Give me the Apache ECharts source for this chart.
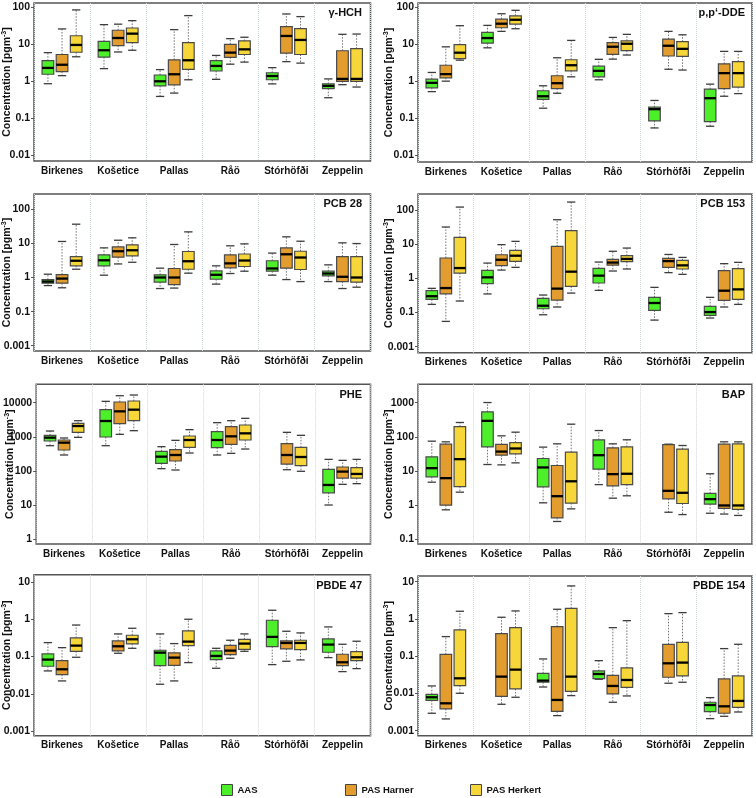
<!DOCTYPE html>
<html><head><meta charset="utf-8">
<script src="https://cdn.jsdelivr.net/npm/echarts@6/dist/echarts.min.js"></script>
<style>html,body{margin:0;padding:0;background:#fff}#c{width:756px;height:798px}</style>
</head><body><div id="c"></div>
<script>
// ---------- DATA ----------
const sites = ['Birkenes','Košetice','Pallas','Råö','Stórhöfði','Zeppelin'];
const seriesNames = ['AAS','PAS Harner','PAS Herkert'];
// each item: [whisker min, Q1, median, Q3, whisker max]  (pg m-3); null = no box
const hch_AAS     = [[0.86,1.55,2.3,3.6,5.95],[2.2,4.5,6.9,12,34],[0.39,0.75,1.0,1.48,2.07],[1.13,1.9,2.6,3.6,5.0],[0.85,1.1,1.39,1.7,2.34],[0.36,0.63,0.75,0.85,1.16]];
const hch_Harner  = [[1.42,1.83,2.8,5.3,26],[6.2,9.2,14.8,24,35],[0.48,0.8,1.55,3.8,24.9],[2.9,4.45,5.95,10,14.2],[3.4,5.8,16.8,30,66],[0.81,1.0,1.16,6.7,18.6]];
const hch_Herkert = [[4.6,6.1,9.6,17,85],[6.9,11.1,19.4,27.6,43.6],[1.1,2.1,3.7,11.1,59.6],[3.3,5.3,7.3,12.3,15.5],[3.1,5.3,13.1,26.5,56],[0.70,1.0,1.16,7.6,18.9]];

const dde_AAS     = [[0.52,0.66,0.90,1.13,1.72],[8.0,10.7,14.7,21,32.4],[0.185,0.32,0.39,0.55,0.75],[1.09,1.31,1.9,2.55,3.9],[0.054,0.084,0.174,0.197,0.30],[0.06,0.08,0.345,0.61,0.83]];
const dde_Harner  = [[1.0,1.23,1.55,2.7,8.5],[22.3,28,36,48,67],[0.47,0.63,0.88,1.4,4.3],[3.95,5.3,8.55,11,15.3],[2.1,4.8,9.1,13.8,22.3],[0.39,0.63,1.65,2.95,6.4]];
const dde_Herkert = [[3.7,4.1,5.9,9.7,31.8],[26.3,35,46,59,83],[1.31,1.9,2.7,3.8,12.7],[5.1,6.7,10.3,12.4,18.5],[2.0,4.7,7.5,11.7,18],[0.46,0.69,1.65,3.4,6.4]];

const pcb28_AAS     = [[0.58,0.68,0.76,0.87,1.25],[1.17,2.2,3.2,4.6,7.4],[0.475,0.73,1.0,1.2,1.88],[0.64,0.89,1.2,1.57,2.2],[1.17,1.53,1.84,3.1,5.2],[0.76,1.12,1.31,1.53,2.35]];
const pcb28_Harner  = [[0.50,0.68,0.93,1.22,11.4],[2.5,3.95,5.9,7.9,12.4],[0.49,0.62,1.0,1.84,9.3],[1.31,1.92,2.6,4.6,8.5],[0.87,1.88,4.8,7.4,15.6],[0.475,0.76,1.05,4.1,10.4]];
const pcb28_Herkert = [[1.75,2.2,3.1,4.1,36.6],[2.8,4.3,6.3,9.1,14.6],[1.34,1.75,3.0,5.8,21.8],[1.53,2.1,3.15,4.9,9.7],[0.76,1.72,3.86,5.9,11.6],[0.52,0.73,1.0,4.1,9.9]];

const pcb153_AAS     = [[0.173,0.243,0.30,0.435,0.51],[0.35,0.70,1.07,1.71,2.8],[0.086,0.129,0.158,0.26,0.325],[0.445,0.73,1.2,1.96,3.0],[0.06,0.116,0.19,0.278,0.545],[0.069,0.083,0.103,0.151,0.278]];
const pcb153_Harner  = [[0.055,0.35,0.52,3.94,31.8],[1.75,2.35,3.5,4.9,9.7],[0.145,0.232,0.5,8.6,52],[1.64,2.45,2.9,3.6,6.2],[1.47,2.1,3.2,3.85,5.0],[0.145,0.227,0.435,1.68,2.69]];
const pcb153_Herkert = [[0.217,1.43,2.0,15.9,122],[2.1,3.15,4.6,6.6,12.1],[0.37,0.58,1.57,24.8,171],[1.88,3.07,3.7,4.6,7.7],[1.31,1.88,2.4,3.37,4.1],[0.173,0.243,0.476,1.92,2.94]];

const phe_AAS     = [[551,755,946,1107,1480],[551,988,2905,6237,10940],[117,168,263,377,515],[294,482,808,1416,2600],null,[10.1,23,39,112,219]];
const phe_Harner  = [[294,412,675,807,925],[1183,2429,5575,10470,16000],[107,196,294,421,790],[329,603,1035,1985,2970],[109,160,294,631,1355],[40.7,62,96,131,205]];
const phe_Herkert = [[967,1355,2075,2483,2970],[1515,2970,6237,11200,16750],[336,493,808,1058,1622],[440,808,1266,2220,3477],[98,143,257,493,1107],[42.6,62,82,125,219]];

const bap_AAS     = [[4.7,6.75,12.1,26,74.7],[15.5,51,294,540,1010],[1.17,3.44,12.7,23.2,50],[4.0,11.3,29,82,153],null,[0.58,1.07,1.5,2.2,8.3]];
const bap_Harner  = [[0.73,1.0,6.17,61,71.4],[15.1,29,37,60,107],[0.333,0.426,1.83,14.5,62.4],[1.6,3.68,8.1,47.6,62.4],[0.62,1.53,2.63,59,61],[0.55,0.8,0.98,61,71.4]];
const bap_Herkert = [[2.4,3.5,22.2,200,263],[17.3,31.8,45.6,68,137],[0.78,1.14,5.0,35.6,235],[1.88,4.0,8.3,51,82],[0.53,1.12,2.3,43.5,55.7],[0.5,0.75,0.98,62.4,71.4]];

const pbde47_AAS     = [[0.041,0.0547,0.0826,0.117,0.236],null,[0.018,0.057,0.127,0.147,0.404],[0.0483,0.0826,0.1035,0.141,0.166],[0.0606,0.185,0.336,0.94,1.745],[0.0934,0.13,0.209,0.296,0.622]];
const pbde47_Harner  = [[0.0221,0.0327,0.0454,0.0776,0.173],[0.122,0.141,0.188,0.262,0.404],[0.0221,0.058,0.0934,0.125,0.222],[0.0897,0.1125,0.144,0.2,0.273],[0.0745,0.16,0.231,0.262,0.476],[0.0393,0.057,0.07,0.115,0.213]];
const pbde47_Herkert = [[0.0953,0.138,0.196,0.315,0.70],[0.166,0.218,0.29,0.372,0.573],[0.0686,0.196,0.251,0.486,1.0],[0.138,0.156,0.222,0.29,0.404],[0.081,0.153,0.231,0.273,0.43],[0.0473,0.0776,0.0953,0.135,0.257]];

const pbde154_AAS     = [[0.00294,0.00656,0.0079,0.0095,0.0159],null,[0.0149,0.02,0.0221,0.0348,0.0844],[0.024,0.025,0.0333,0.0402,0.076],null,[0.00211,0.00325,0.0049,0.0058,0.00773]];
const pbde154_Harner  = [[0.00207,0.00384,0.00544,0.1126,0.336],[0.00512,0.0084,0.0283,0.404,1.11],[0.00254,0.00332,0.0067,0.623,1.82],[0.0058,0.0097,0.0159,0.0307,0.585],[0.0188,0.0272,0.0645,0.209,1.39],[0.00244,0.00294,0.00452,0.0245,0.16]];
const pbde154_Herkert = [[0.0101,0.0162,0.0255,0.507,1.61],[0.0079,0.0132,0.0436,0.585,1.64],[0.00875,0.0114,0.0283,1.93,7.7],[0.00857,0.0146,0.023,0.0484,0.9],[0.02,0.0295,0.0673,0.236,1.48],[0.00318,0.00425,0.0063,0.0295,0.209]];

// tick labels, one per decade starting at firstExp
const ticks_hch    = ['0.01','0.1','1','10','100'];
const ticks_dde    = ['0.01','0.1','1','10','100'];
const ticks_pcb28  = ['0.001','0.1','1','10','100'];
const ticks_pcb153 = ['0.001','0.1','1','10','100'];
const ticks_phe    = ['1','10','100','1000','10000'];
const ticks_bap    = ['0.1','1','10','100','1000'];
const ticks_pbde47 = ['0.001','0.01','0.1','1','10'];
const ticks_pbde154= ['0.001','0.01','0.1','1','10'];

const panels = [
  {title:'γ-HCH',    data:[hch_AAS,hch_Harner,hch_Herkert],          ticks:ticks_hch,    firstExp:-2, logMin:-2.154, logMax:2.116},
  {title:'p,p‘-DDE', data:[dde_AAS,dde_Harner,dde_Herkert],          ticks:ticks_dde,    firstExp:-2, logMin:-2.19,  logMax:2.117},
  {title:'PCB 28',   data:[pcb28_AAS,pcb28_Harner,pcb28_Herkert],    ticks:ticks_pcb28,  firstExp:-2, logMin:-2.155, logMax:2.449},
  {title:'PCB 153',  data:[pcb153_AAS,pcb153_Harner,pcb153_Herkert], ticks:ticks_pcb153, firstExp:-2, logMin:-2.176, logMax:2.469},
  {title:'PHE',      data:[phe_AAS,phe_Harner,phe_Herkert],          ticks:ticks_phe,    firstExp:0,  logMin:-0.137, logMax:4.538},
  {title:'BAP',      data:[bap_AAS,bap_Harner,bap_Herkert],          ticks:ticks_bap,    firstExp:-1, logMin:-1.137, logMax:3.538},
  {title:'PBDE 47',  data:[pbde47_AAS,pbde47_Harner,pbde47_Herkert], ticks:ticks_pbde47, firstExp:-3, logMin:-3.126, logMax:1.196},
  {title:'PBDE 154', data:[pbde154_AAS,pbde154_Harner,pbde154_Herkert], ticks:ticks_pbde154, firstExp:-3, logMin:-3.134, logMax:1.153}
];

// ---------- LAYOUT / STYLE ----------
const layout = [
  {left:34,  top:3,     width:336.5, height:158,   titleRight:394, titleTop:7,   nameGap:20},
  {left:418, top:3,     width:334,   height:159,   titleRight:11,  titleTop:7,   nameGap:22},
  {left:34,  top:194,   width:336.5, height:157,   titleRight:394, titleTop:198, nameGap:20},
  {left:418, top:194,   width:334,   height:158.7, titleRight:11,  titleTop:198, nameGap:22},
  {left:34,  top:384.3, width:336.5, height:159.7, titleRight:394, titleTop:389, nameGap:20},
  {left:418, top:384.3, width:334,   height:159.7, titleRight:11,  titleTop:389, nameGap:22},
  {left:34,  top:574.7, width:336.5, height:161,   titleRight:394, titleTop:580, nameGap:20},
  {left:418, top:576,   width:334,   height:159.7, titleRight:11,  titleTop:580, nameGap:22}
];
const fills = ['#4cef2a','#e39c2e','#f7d639'];
const FONT = '"Liberation Sans", Arial, sans-serif';
const legendLeft = [221, 345, 470];

function makeRender(s) {
  return function (params, api) {
    const cs = params.coordSys;
    const band = cs.width / sites.length;
    const i = api.value(0);
    const y = k => api.coord([i, api.value(k)])[1];
    const cx = api.coord([i, api.value(3)])[0] + (s - 1) * band * 0.252;
    const yMin = y(1), yQ1 = y(2), yMed = y(3), yQ3 = y(4), yMax = y(5);
    const bw = band * 0.208, cw = band * 0.148;
    const dash = {stroke:'#707070', lineWidth:1, lineDash:[1.5,1.5]};
    const cap = {stroke:'#3c3c3c', lineWidth:1.3};
    return {type:'group', children:[
      {type:'line', shape:{x1:cx,y1:yQ1,x2:cx,y2:yMin}, style:dash},
      {type:'line', shape:{x1:cx,y1:yQ3,x2:cx,y2:yMax}, style:dash},
      {type:'line', shape:{x1:cx-cw/2,y1:yMin,x2:cx+cw/2,y2:yMin}, style:cap},
      {type:'line', shape:{x1:cx-cw/2,y1:yMax,x2:cx+cw/2,y2:yMax}, style:cap},
      {type:'rect', shape:{x:cx-bw/2,y:yQ3,width:bw,height:yQ1-yQ3}, style:{fill:fills[s], stroke:'#4a4a4a', lineWidth:1.2}},
      {type:'line', shape:{x1:cx-bw/2,y1:yMed,x2:cx+bw/2,y2:yMed}, style:{stroke:'#000', lineWidth:2.3}}
    ]};
  };
}

const grid = [], xAxis = [], yAxis = [], series = [], title = [];
panels.forEach((p, k) => {
  const L = layout[k];
  grid.push({left:L.left, top:L.top, width:L.width, height:L.height, show:true,
    borderColor:'#555', borderWidth:1.5, backgroundColor:'transparent', containLabel:false});
  xAxis.push({type:'category', gridIndex:k, data:sites, boundaryGap:true,
    axisLine:{show:false}, axisTick:{show:false},
    axisLabel:{fontFamily:FONT, fontWeight:'bold', fontSize:10, color:'#111', margin:5, interval:0},
    splitLine:{show:true, lineStyle:{color:'#cfd8dc', type:'dotted', width:1}}});
  yAxis.push({type:'log', logBase:10, gridIndex:k,
    min:Math.pow(10, p.logMin), max:Math.pow(10, p.logMax),
    axisLine:{show:false},
    axisTick:{show:true, inside:false, length:3, lineStyle:{color:'#555'}},
    splitLine:{show:false},
    axisLabel:{fontFamily:FONT, fontWeight:'bold', fontSize:10.5, color:'#111', margin:4,
      showMinLabel:false, showMaxLabel:false,
      formatter: function (v) {
        const e = Math.round(Math.log10(v));
        if (Math.abs(Math.log10(v) - e) > 1e-6) return '';
        const t = p.ticks[e - p.firstExp];
        return t === undefined ? '' : t;
      }},
    name:'Concentration [pgm{sup|-3}]', nameLocation:'middle', nameRotate:90, nameGap:L.nameGap,
    nameMoveOverlap:false,
    nameTextStyle:{fontFamily:FONT, fontWeight:'bold', fontSize:10.5, color:'#111', lineHeight:13,
      rich:{sup:{fontFamily:FONT, fontWeight:'bold', fontSize:7, color:'#111', verticalAlign:'top', lineHeight:13}}}});
  title.push({text:p.title, right:L.titleRight, top:L.titleTop, padding:0,
    textStyle:{fontFamily:FONT, fontWeight:'bold', fontSize:11, color:'#111'}});
  p.data.forEach((arr, s) => {
    series.push({type:'custom', name:seriesNames[s], xAxisIndex:k, yAxisIndex:k,
      itemStyle:{color:fills[s], borderColor:'#444'},
      encode:{x:0, y:[1,2,3,4,5]},
      data: arr.map((v, i) => v ? [i].concat(v) : null).filter(Boolean),
      renderItem: makeRender(s)});
  });
});

const legend = seriesNames.map((n, k) => ({
  data:[{name:n, icon:'rect', itemStyle:{color:fills[k], borderColor:'#444', borderWidth:1}}],
  left:legendLeft[k], top:784, padding:0, itemWidth:11, itemHeight:11, selectedMode:false,
  textStyle:{fontFamily:FONT, fontWeight:'bold', fontSize:9.5, color:'#111'}
}));

const chart = echarts.init(document.getElementById('c'), null, {renderer:'canvas'});
chart.setOption({animation:false, backgroundColor:'#fff', title, grid, xAxis, yAxis, series, legend});
</script></body></html>
